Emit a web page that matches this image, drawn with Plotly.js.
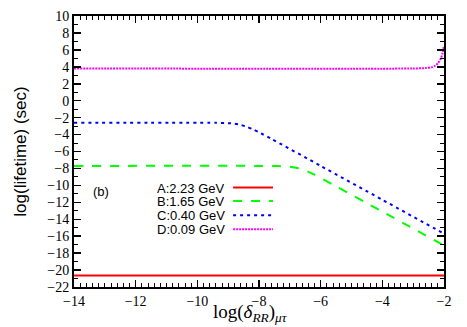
<!DOCTYPE html>
<html>
<head>
<meta charset="utf-8">
<script src="https://cdn.plot.ly/plotly-3.0.1.min.js"></script>
<style>
  html, body { margin: 0; padding: 0; background: #fff; }
  #chart { width: 467px; height: 327px; }
</style>
</head>
<body>
<div id="chart"></div>
<script>
// Curves: log(lifetime) vs log(delta_RR)_mu-tau
const labels = ['A:2.23 GeV', 'B:1.65 GeV', 'C:0.40 GeV', 'D:0.09 GeV'];
const colors = ['#ff0000', '#00ff00', '#0000ff', '#ff00ff'];
const dashes = ['solid', 'dash', '3px,4px', '2px,1px'];

const xA = [-14, -2];
const yA = [-20.65, -20.65];

const xB = [-14, -8, -7.4, -7.0, -6.8, -6.6, -6.4, -6.2, -6.0, -5.6, -4, -2];
const yB = [-7.7, -7.7, -7.72, -7.8, -7.91, -8.11, -8.4, -8.74, -9.11, -9.91, -13.1, -17.1];

const xC = [-14, -9.4, -9.0, -8.8, -8.6, -8.4, -8.2, -8.0, -7.6, -6, -4, -2];
const yC = [-2.6, -2.61, -2.65, -2.72, -2.85, -3.08, -3.38, -3.73, -4.5, -7.7, -11.7, -15.7];

const xD = [-14, -3, -2.6, -2.4, -2.3, -2.2, -2.1, -2.05, -2.0];
const yD = [3.8, 3.8, 3.85, 3.95, 4.1, 4.4, 5.0, 5.6, 6.5];

const xs = [xA, xB, xC, xD];
const ys = [yA, yB, yC, yD];

const traces = xs.map((xv, i) => ({
  x: xv,
  y: ys[i],
  type: 'scatter',
  mode: 'lines',
  line: { color: colors[i], width: 2, dash: dashes[i], shape: 'spline', smoothing: 0.6 },
  showlegend: false,
  hoverinfo: 'skip'
}));

// gnuplot-style key: text first, then line sample
const rowY = [0.367, 0.317, 0.265, 0.213];
const annotations = labels.map((t, i) => ({
  xref: 'paper', yref: 'paper', x: 0.414, y: rowY[i],
  xanchor: 'right', yanchor: 'middle', showarrow: false, height: 12,
  text: t, font: { family: 'Liberation Sans, Arial', size: 13, color: '#000' }
}));
annotations.push({
  xref: 'x', yref: 'y', x: -13.13, y: -10.7, showarrow: false,
  text: '(b)', font: { family: 'Liberation Sans, Arial', size: 13, color: '#000' }
});
// x-axis title placed by hand, gnuplot puts it low
annotations.push({
  xref: 'paper', yref: 'paper', x: 0.476, y: -0.146,
  xanchor: 'center', yanchor: 'bottom', showarrow: false,
  text: 'log(<i>δ</i><sub><i>RR</i></sub>)<sub><i>μτ</i></sub>',
  font: { family: 'Liberation Serif, Times New Roman', size: 19, color: '#000' }
});
const shapes = labels.map((t, i) => ({
  type: 'line', xref: 'paper', yref: 'paper',
  x0: 0.43, x1: 0.538, y0: rowY[i], y1: rowY[i],
  line: { color: colors[i], width: 2, dash: dashes[i] }
}));

const tickFont = { family: 'Liberation Serif, Times New Roman', size: 14, color: '#000' };

const layout = {
  width: 467,
  height: 327,
  margin: { l: 74, r: 23, t: 16, b: 40 },
  paper_bgcolor: '#fff',
  plot_bgcolor: '#fff',
  xaxis: {
    range: [-14, -2],
    dtick: 2,
    tick0: -14,
    ticks: 'inside',
    ticklen: 7,
    tickwidth: 1.5,
    tickcolor: '#000',
    minor: { dtick: 0.2, ticks: 'inside', ticklen: 4, tickcolor: '#000', tickwidth: 1 },
    showline: true,
    linecolor: '#000',
    linewidth: 2,
    mirror: 'allticks',
    showgrid: false,
    zeroline: false,
    tickfont: tickFont
  },
  yaxis: {
    range: [-22, 10],
    dtick: 2,
    ticks: 'inside',
    ticklen: 7,
    tickwidth: 1.5,
    tickcolor: '#000',
    minor: { dtick: 1, ticks: 'inside', ticklen: 4, tickcolor: '#000', tickwidth: 1 },
    showline: true,
    linecolor: '#000',
    linewidth: 2,
    mirror: 'allticks',
    showgrid: false,
    zeroline: false,
    tickfont: tickFont,
    title: {
      text: 'log(lifetime) (sec)',
      font: { family: 'Liberation Sans, Arial', size: 17, color: '#000' },
      standoff: 16
    }
  },
  annotations: annotations,
  shapes: shapes
};

Plotly.newPlot('chart', traces, layout, { displayModeBar: false, staticPlot: true });
</script>
</body>
</html>
